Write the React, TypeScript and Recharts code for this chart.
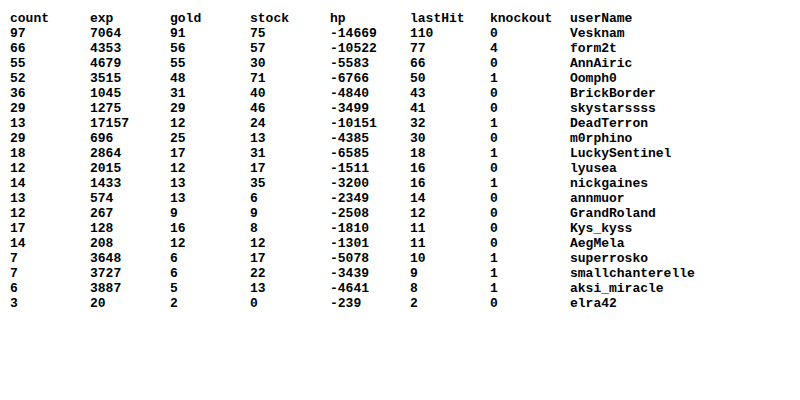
import React from 'react';
import { Surface, Layer, Text } from 'recharts';

const columns = ['count', 'exp', 'gold', 'stock', 'hp', 'lastHit', 'knockout', 'userName'];

const count = [97, 66, 55, 52, 36, 29, 13, 29, 18, 12, 14, 13, 12, 17, 14, 7, 7, 6, 3];
const exp = [7064, 4353, 4679, 3515, 1045, 1275, 17157, 696, 2864, 2015, 1433, 574, 267, 128, 208, 3648, 3727, 3887, 20];
const gold = [91, 56, 55, 48, 31, 29, 12, 25, 17, 12, 13, 13, 9, 16, 12, 6, 6, 5, 2];
const stock = [75, 57, 30, 71, 40, 46, 24, 13, 31, 17, 35, 6, 9, 8, 12, 17, 22, 13, 0];
const hp = [-14669, -10522, -5583, -6766, -4840, -3499, -10151, -4385, -6585, -1511, -3200, -2349, -2508, -1810, -1301, -5078, -3439, -4641, -239];
const lastHit = [110, 77, 66, 50, 43, 41, 32, 30, 18, 16, 16, 14, 12, 11, 11, 10, 9, 8, 2];
const knockout = [0, 4, 0, 1, 0, 0, 1, 0, 1, 0, 1, 0, 0, 0, 0, 1, 1, 1, 0];
const userName = ['Vesknam', 'form2t', 'AnnAiric', 'Oomph0', 'BrickBorder', 'skystarssss', 'DeadTerron', 'm0rphino', 'LuckySentinel', 'lyusea', 'nickgaines', 'annmuor', 'GrandRoland', 'Kys_kyss', 'AegMela', 'superrosko', 'smallchanterelle', 'aksi_miracle', 'elra42'];

const series: (number | string)[][] = [count, exp, gold, stock, hp, lastHit, knockout, userName];

const font = { fontFamily: '"Liberation Mono", "Courier New", monospace', fontSize: 13, fontWeight: 'bold' as const, fill: '#000' };

export default function App() {
  const colX = (c: number) => 10 + c * 80;
  const rowY = (r: number) => 17 + r * 15;
  return (
    <div style={{ position: 'absolute', left: 0, top: 0, width: 800, height: 400, background: '#fff' }}>
      <Surface width={800} height={400}>
        <Layer>
          {columns.map((name, c) => (
            <Text key={name} x={colX(c)} y={rowY(0)} verticalAnchor="middle" {...font}>{name}</Text>
          ))}
        </Layer>
        {series.map((vals, c) => (
          <Layer key={c}>
            {vals.map((v, r) => (
              <Text key={r} x={colX(c)} y={rowY(r + 1)} verticalAnchor="middle" {...font}>{String(v)}</Text>
            ))}
          </Layer>
        ))}
      </Surface>
    </div>
  );
}
